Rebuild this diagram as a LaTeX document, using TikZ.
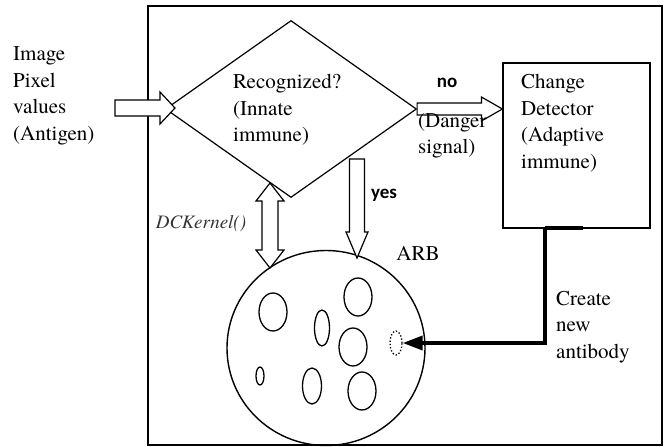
\documentclass[tikz,border=0pt]{standalone}
\usepackage{fontspec}
\setmainfont{texgyretermes}[Extension=.otf, UprightFont=*-regular, BoldFont=*-bold, ItalicFont=*-italic]
\newfontfamily\signfont{Carlito}
\usetikzlibrary{calc}
\usetikzlibrary{arrows.meta}
\usetikzlibrary{shapes.geometric}

\tikzset{
  txt/.style={inner sep=0pt, align=left, font=\fontsize{21}{26.5}\selectfont},
  sign/.style={inner sep=0pt, font=\signfont\bfseries\fontsize{19}{22}\selectfont},
  cell/.style={draw, ellipse, line width=1.3pt, inner sep=0pt},
  blockarrow/.style={draw, fill=white, line width=1.2pt, line join=miter},
}

% hollow block arrow: from, to, shaft half width, head half width, head length
\newcommand{\hollowarrow}[5]{%
  \coordinate (h) at ($(#2)!#5!(#1)$);
  \draw[blockarrow] ($(#1)!#3!90:(#2)$) -- ($(h)!#3!90:(#2)$) -- ($(h)!#4!90:(#2)$)
    -- (#2) -- ($(h)!#4!-90:(#2)$) -- ($(h)!#3!-90:(#2)$) -- ($(#1)!#3!-90:(#2)$) -- cycle;
}
% same with a head on both ends
\newcommand{\hollowdouble}[5]{%
  \coordinate (ha) at ($(#1)!#5!(#2)$);
  \coordinate (hb) at ($(#2)!#5!(#1)$);
  \draw[blockarrow] (#1) -- ($(ha)!#4!90:(#2)$) -- ($(ha)!#3!90:(#2)$) -- ($(hb)!#3!90:(#2)$)
    -- ($(hb)!#4!90:(#2)$) -- (#2) -- ($(hb)!#4!-90:(#2)$) -- ($(hb)!#3!-90:(#2)$)
    -- ($(ha)!#3!-90:(#2)$) -- ($(ha)!#4!-90:(#2)$) -- cycle;
}

\begin{document}
\begin{tikzpicture}[x=1pt, y=-1pt]
\useasboundingbox (0,0) rectangle (664,447);

% outer frame
\draw[line width=1.6pt] (148,6) rectangle (662,445);

% input
\node[txt, anchor=west] (input) at (13,96) {Image\\Pixel\\values\\(Antigen)};

% innate part
\node[draw, diamond, line width=1.2pt, minimum width=251pt, minimum height=177pt, inner sep=0pt] (recog) at (291,109) {};
\node[txt, anchor=west] (recogtxt) at (233,110) {Recognized?\\(Innate\\immune)};

% adaptive part
\node[draw, rectangle, line width=1.2pt, minimum width=147pt, minimum height=165pt] (cd) at (576.5,145.5) {};
\node[txt, anchor=west] (cdtxt) at (521,123) {Change\\Detector\\(Adaptive\\immune)};

% ARB
\node[cell, line width=1.4pt, minimum width=198pt, minimum height=195pt] (arb) at (326,348) {};
\node[txt] (arblabel) at (418,253) {ARB};
\foreach \n/\x/\y/\w/\h in {1/273/312/28/38, 2/358/297/28/38, 3/322/328/15/36, 4/353/347/28/38,
                            6/260/376/8/18, 7/312/386/19/36, 8/362/391/28/38}
  \node[cell, minimum width=\w pt, minimum height=\h pt] (ab\n) at (\x,\y) {};
\node[cell, dotted, minimum width=12pt, minimum height=24pt] (newab) at (396,343) {};

% connectors
\coordinate (intail) at (115,108);
\coordinate (intip) at (175,108);
\hollowarrow{intail}{intip}{8pt}{16pt}{15pt}

\coordinate (nostart) at (recog.east);
\coordinate (noend) at (recog.east -| cd.west);
\hollowarrow{nostart}{noend}{6pt}{12pt}{21pt}
\node[sign] (no) at (447,83) {no};
\node[txt, anchor=north west] (danger) at (418,113) {(Danger\\signal)};

\coordinate (yesstart) at (357,159);
\coordinate (yesend) at (357,258);
\hollowarrow{yesstart}{yesend}{7.5pt}{11pt}{26pt}
\node[sign] (yes) at (384,195) {yes};

\coordinate (dctop) at (270,183);
\coordinate (dcbot) at (270,268);
\hollowdouble{dctop}{dcbot}{8pt}{14pt}{18pt}
\node[txt, font=\itshape\fontsize{19}{22}\selectfont, text=black!80] (dck) at (201,224) {DCKernel()};

\coordinate (cdout) at (545,228);
\coordinate (cdseg) at (583,228);
\draw[line width=3.5pt] (cdout) -- (cdseg);
\draw[line width=3.5pt, -{Triangle[length=20pt, width=14pt]}] (cdout) |- (newab.east);
\node[txt, anchor=west] (create) at (556,327) {Create\\new\\antibody};

\end{tikzpicture}
\end{document}
